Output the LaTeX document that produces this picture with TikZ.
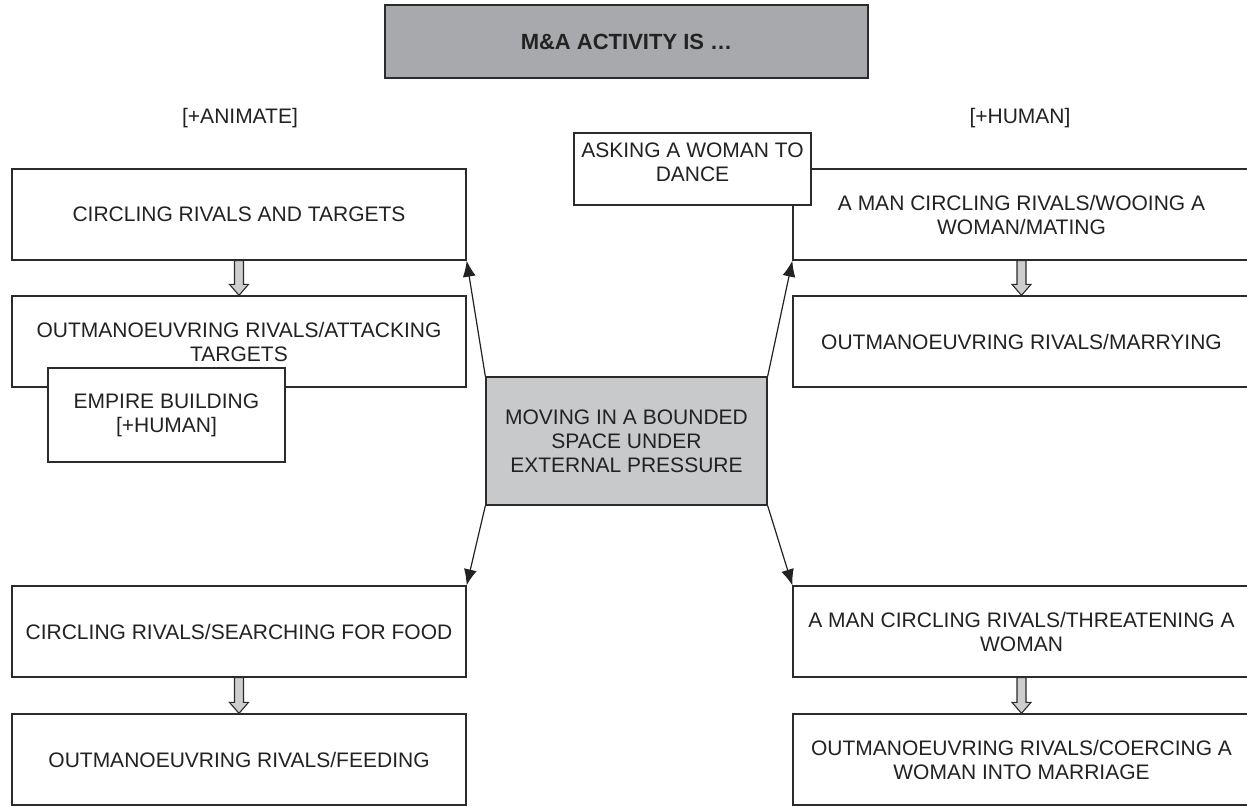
\documentclass[tikz,border=0pt]{standalone}
\usepackage{fontspec}
\setmainfont{Liberation Sans}
\usetikzlibrary{arrows.meta,calc}

\definecolor{edge}{HTML}{2B2B2B}
\definecolor{ink}{HTML}{222222}
\definecolor{headfill}{HTML}{A8A9AC}
\definecolor{corefill}{HTML}{C8C9CB}
\definecolor{blockfill}{HTML}{CDCECF}

% hollow grey block arrow from the bottom of one box to the top of the next
\newcommand{\blockdown}[2]{%
  \draw[blockarrow]
    ($(#1.south)+(-4.5,0)$) -- ($(#2.north)+(-4.5,-11)$) -- ($(#2.north)+(-9.5,-11)$)
    -- (#2.north) -- ($(#2.north)+(9.5,-11)$) -- ($(#2.north)+(4.5,-11)$)
    -- ($(#1.south)+(4.5,0)$) -- cycle;}

\begin{document}
\begin{tikzpicture}[x=1pt,y=-1pt,
  box/.style={draw=edge, line width=1.3pt, fill=white, align=center, inner sep=0pt,
    text=ink, font=\fontsize{21}{24}\selectfont},
  sidelabel/.style={text=ink, align=center, inner sep=0pt, font=\fontsize{21}{24}\selectfont},
  link/.style={draw=ink, line width=1.2pt, -{Latex[length=16pt,width=13pt]}},
  blockarrow/.style={draw=edge, line width=1.1pt, fill=blockfill, line join=miter}
]
\clip (0,0) rectangle (1247,806);
\fill[white] (0,0) rectangle (1247,806);

% title
\node[box, fill=headfill, minimum width=483, minimum height=73,
  font=\bfseries\fontsize{22}{26}\selectfont] (head) at (626.5,41.5) {M\&A ACTIVITY IS …};

% column headings
\node[sidelabel] (animate) at (240,118) {[+ANIMATE]};
\node[sidelabel] (human) at (1020,118) {[+HUMAN]};

% left column
\node[box, minimum width=454, minimum height=91] (L1) at (239,214.5) {CIRCLING RIVALS AND TARGETS};
\node[box, minimum width=454, minimum height=91] (L2) at (239,341.5) {OUTMANOEUVRING RIVALS/ATTACKING\\TARGETS};
\node[box, minimum width=237, minimum height=94] (empire) at (166.5,415) {EMPIRE BUILDING\\{}[+HUMAN]};
\node[box, minimum width=454, minimum height=91] (L3) at (239,631.5) {CIRCLING RIVALS/SEARCHING FOR FOOD};
\node[box, minimum width=454, minimum height=91] (L4) at (239,759.5) {OUTMANOEUVRING RIVALS/FEEDING};

% right column
\node[box, minimum width=457, minimum height=91] (R1) at (1021.5,214.5) {A MAN CIRCLING RIVALS/WOOING A\\WOMAN/MATING};
\node[box, minimum width=237, minimum height=72] (ask) at (692.5,169) {};
\node[sidelabel] (asktext) at (692.5,162) {ASKING A WOMAN TO\\DANCE};
\node[box, minimum width=457, minimum height=91] (R2) at (1021.5,341.5) {OUTMANOEUVRING RIVALS/MARRYING};
\node[box, minimum width=457, minimum height=91] (R3) at (1021.5,631.5) {A MAN CIRCLING RIVALS/THREATENING A\\WOMAN};
\node[box, minimum width=457, minimum height=91] (R4) at (1021.5,759.5) {OUTMANOEUVRING RIVALS/COERCING A\\WOMAN INTO MARRIAGE};

% centre
\node[box, fill=corefill, minimum width=281, minimum height=128] (core) at (626.5,441)
  {MOVING IN A BOUNDED\\SPACE UNDER\\EXTERNAL PRESSURE};

% connectors
\draw[link] (core.north west) -- (L1.south east);
\draw[link] (core.north east) -- (R1.south west);
\draw[link] (core.south west) -- (L3.north east);
\draw[link] (core.south east) -- (R3.north west);

\blockdown{L1}{L2}
\blockdown{L3}{L4}
\blockdown{R1}{R2}
\blockdown{R3}{R4}
\end{tikzpicture}
\end{document}
